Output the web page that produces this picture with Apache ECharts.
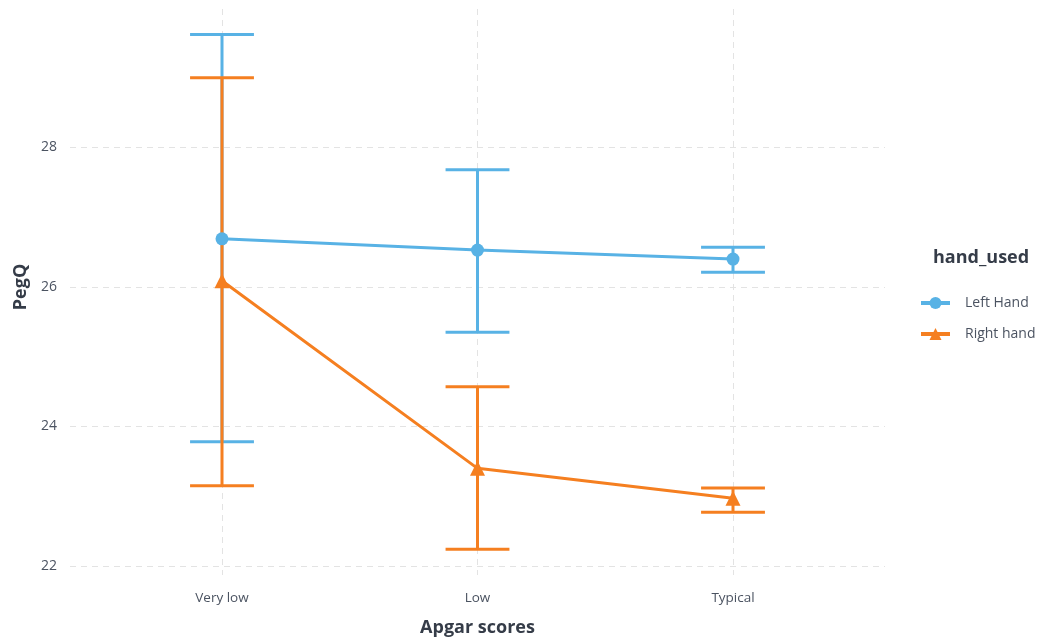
<!DOCTYPE html>
<html><head><meta charset="utf-8">
<script src="https://cdn.jsdelivr.net/npm/echarts@6/dist/echarts.min.js"></script>
<style>html,body{margin:0;padding:0;background:#fff}#c{width:1042px;height:638px}</style>
</head><body><div id="c"></div>
<script>
const categories = ['Very low', 'Low', 'Typical'];
const seriesNames = ['Left Hand', 'Right hand'];
const leftMean = [26.69, 26.53, 26.40];
const leftLower = [23.78, 25.35, 26.21];
const leftUpper = [29.62, 27.68, 26.57];
const rightMean = [26.09, 23.40, 22.97];
const rightLower = [23.15, 22.24, 22.77];
const rightUpper = [29.00, 24.57, 23.12];
const yTicks = [22, 24, 26, 28];

const BLUE = '#58B2E5';
const ORANGE = '#F57F20';
const TXT = '#4b5361';
const TTL = '#353c48';
const FONT = '"Open Sans", Roboto, sans-serif';

function errData(lo, hi) { return categories.map((c, i) => [i + 1, lo[i], hi[i]]); }
function ptData(m) { return categories.map((c, i) => [i + 1, m[i]]); }

function renderErr(color) {
  return function (params, api) {
    const x = api.value(0);
    const lo = api.coord([x, api.value(1)]);
    const hi = api.coord([x, api.value(2)]);
    const hw = api.size([0.25, 0])[0] / 2;
    const st = { stroke: color, lineWidth: 3, fill: null };
    return { type: 'group', children: [
      { type: 'line', shape: { x1: lo[0], y1: lo[1], x2: hi[0], y2: hi[1] }, style: st },
      { type: 'line', shape: { x1: lo[0] - hw, y1: lo[1], x2: lo[0] + hw, y2: lo[1] }, style: st },
      { type: 'line', shape: { x1: hi[0] - hw, y1: hi[1], x2: hi[0] + hw, y2: hi[1] }, style: st }
    ]};
  };
}

const dashed = { show: true, lineStyle: { color: '#e3e3e3', type: [6, 5], width: 1 } };

const chart = echarts.init(document.getElementById('c'));
chart.setOption({
  animation: false,
  backgroundColor: '#fff',
  textStyle: { fontFamily: FONT },
  grid: [
    { left: 70, right: 157, top: 8, bottom: 72, outerBoundsMode: 'none', containLabel: false },
    { left: 222, right: 309, top: 9, bottom: 63, outerBoundsMode: 'none', containLabel: false },
    { left: 222, right: 309, top: 8, bottom: 72, outerBoundsMode: 'none', containLabel: false }
  ],
  xAxis: [
    { gridIndex: 0, type: 'value', show: false, min: 0, max: 1 },
    { gridIndex: 1, type: 'value', min: 1, max: 3, interval: 1,
      axisLine: { show: false }, axisTick: { show: false }, splitLine: dashed,
      axisLabel: { color: TXT, fontSize: 13.5, margin: 16, formatter: v => categories[Math.round(v) - 1] || '' },
      name: 'Apgar scores', nameLocation: 'middle', nameGap: 44,
      nameTextStyle: { color: TTL, fontSize: 18, fontWeight: 'bold' } },
    { gridIndex: 2, type: 'value', show: false, min: 1, max: 3 }
  ],
  yAxis: [
    { gridIndex: 0, type: 'value', min: 22, max: 30, interval: 2,
      axisLine: { show: false }, axisTick: { show: false },
      splitLine: Object.assign({ showMaxLine: false }, dashed),
      axisLabel: { color: TXT, fontSize: 14, margin: 13, showMaxLabel: false,
        formatter: v => yTicks.includes(v) ? String(v) : '' },
      name: 'PegQ', nameLocation: 'middle', nameGap: 40, nameRotate: 90,
      nameTextStyle: { color: TTL, fontSize: 18, fontWeight: 'bold' } },
    { gridIndex: 1, type: 'value', show: false, min: 0, max: 1 },
    { gridIndex: 2, type: 'value', show: false, min: 22, max: 30 }
  ],
  title: { text: 'hand_used', left: 928, top: 244,
    textStyle: { color: TTL, fontSize: 18, fontWeight: 'bold', fontFamily: FONT } },
  legend: {
    data: seriesNames, orient: 'vertical', left: 914, top: 291,
    itemWidth: 29, itemHeight: 15, itemGap: 17,
    lineStyle: { width: 4 },
    textStyle: { color: TXT, fontSize: 14, padding: [0, 0, 0, 10] }
  },
  series: [
    { name: 'Left Hand err', type: 'custom', xAxisIndex: 2, yAxisIndex: 2, renderItem: renderErr(BLUE),
      data: errData(leftLower, leftUpper), z: 2, silent: true },
    { name: 'Right hand err', type: 'custom', xAxisIndex: 2, yAxisIndex: 2, renderItem: renderErr(ORANGE),
      data: errData(rightLower, rightUpper), z: 3, silent: true },
    { name: 'Left Hand', type: 'line', xAxisIndex: 2, yAxisIndex: 2, data: ptData(leftMean),
      symbol: 'circle', symbolSize: 13, color: BLUE, lineStyle: { width: 3, color: BLUE },
      itemStyle: { color: BLUE }, z: 4 },
    { name: 'Right hand', type: 'line', xAxisIndex: 2, yAxisIndex: 2, data: ptData(rightMean),
      symbol: 'triangle', symbolSize: 15, color: ORANGE, lineStyle: { width: 3, color: ORANGE },
      itemStyle: { color: ORANGE }, z: 5 }
  ]
});
</script></body></html>
